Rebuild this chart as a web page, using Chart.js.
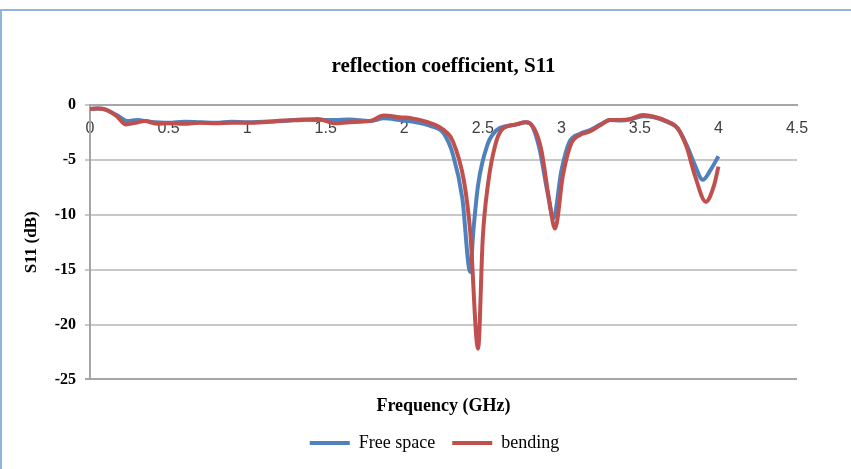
<!DOCTYPE html>
<html>
<head>
<meta charset="utf-8">
<script src="https://cdn.jsdelivr.net/npm/chart.js@4/dist/chart.umd.min.js"></script>
<style>
  html, body { margin: 0; padding: 0; background: #ffffff; overflow: hidden; }
  #wrap { position: relative; width: 851px; height: 469px; }
  #frame { position: absolute; left: 0; top: 9px; width: 1200px; height: 900px;
           border-left: 2px solid #8fb4de; border-top: 2px solid #8fb4de; pointer-events: none; }
  canvas { position: absolute; left: 0; top: 0; }
</style>
</head>
<body>
<div id="wrap">
  <canvas id="c" width="851" height="469"></canvas>
  <div id="frame"></div>
</div>
<script>
// ---- data ----
const freqFree = [0, 0.05, 0.1, 0.17, 0.24, 0.3, 0.38, 0.5, 0.6, 0.7, 0.8, 0.9, 1.0, 1.1, 1.23, 1.35, 1.45, 1.56, 1.65, 1.78, 1.87, 1.97, 2.05, 2.17, 2.25, 2.31, 2.37, 2.42, 2.44, 2.47, 2.53, 2.59, 2.655, 2.72, 2.77, 2.8, 2.86, 2.91, 2.95, 3.0, 3.05, 3.12, 3.18, 3.25, 3.31, 3.38, 3.44, 3.52, 3.59, 3.67, 3.74, 3.8, 3.85, 3.9, 3.95, 4.0];
const s11Free  = [-0.35, -0.3, -0.4, -0.9, -1.45, -1.35, -1.5, -1.6, -1.5, -1.55, -1.6, -1.5, -1.55, -1.5, -1.45, -1.3, -1.35, -1.35, -1.3, -1.45, -1.2, -1.35, -1.5, -1.9, -2.55, -4.5, -8.5, -15.2, -11.5, -7.3, -3.6, -2.25, -1.9, -1.75, -1.55, -1.65, -3.9, -7.8, -10.3, -6.0, -3.4, -2.6, -2.3, -1.75, -1.35, -1.4, -1.3, -1.0, -1.1, -1.5, -2.1, -3.7, -5.45, -6.8, -5.9, -4.65];

const freqBend = [0, 0.05, 0.1, 0.17, 0.23, 0.29, 0.35, 0.43, 0.5, 0.6, 0.7, 0.8, 0.9, 1.0, 1.1, 1.23, 1.35, 1.45, 1.56, 1.65, 1.78, 1.87, 1.97, 2.05, 2.17, 2.25, 2.31, 2.38, 2.42, 2.47, 2.5, 2.535, 2.58, 2.62, 2.7, 2.77, 2.8, 2.87, 2.92, 2.96, 3.01, 3.06, 3.12, 3.18, 3.25, 3.31, 3.38, 3.44, 3.52, 3.59, 3.67, 3.74, 3.8, 3.85, 3.92, 3.97, 4.0];
const s11Bend  = [-0.35, -0.3, -0.4, -1.0, -1.75, -1.6, -1.45, -1.7, -1.65, -1.7, -1.6, -1.65, -1.6, -1.6, -1.55, -1.4, -1.35, -1.25, -1.65, -1.55, -1.45, -0.95, -1.1, -1.2, -1.65, -2.25, -3.3, -6.9, -11.5, -22.2, -12.1, -7.0, -3.6, -2.25, -1.8, -1.55, -1.65, -3.9, -8.4, -11.25, -6.4, -3.6, -2.7, -2.4, -1.8, -1.35, -1.35, -1.25, -0.9, -1.05, -1.45, -2.1, -3.9, -6.4, -8.8, -7.4, -5.6];

const xTickValues = [0, 0.5, 1, 1.5, 2, 2.5, 3, 3.5, 4, 4.5];
const yTickValues = [0, -5, -10, -15, -20, -25];

const seriesNames = ['Free space', 'bending'];
const chartTitle = 'reflection coefficient, S11';
const xTitle = 'Frequency (GHz)';
const yTitle = 'S11 (dB)';

// ---- build ----
const toPoints = (xs, ys) => xs.map((x, i) => ({ x: x, y: ys[i] }));
const serif = "'Liberation Serif', 'Times New Roman', serif";

// nudge the legend slightly left, as in the reference
const legendShift = {
  id: 'legendShift',
  afterLayout(chart) {
    if (chart.legend) { chart.legend.left -= 9; chart.legend.right -= 9; }
  }
};

new Chart(document.getElementById('c'), {
  type: 'line',
  data: {
    datasets: [
      { label: seriesNames[0], data: toPoints(freqFree, s11Free), borderColor: '#4f81bd', backgroundColor: '#4f81bd',
        borderWidth: 4, pointRadius: 0, cubicInterpolationMode: 'monotone', order: 1, xAxisID: 'x', yAxisID: 'y' },
      { label: seriesNames[1], data: toPoints(freqBend, s11Bend), borderColor: '#c0504d', backgroundColor: '#c0504d',
        borderWidth: 4, pointRadius: 0, cubicInterpolationMode: 'monotone', order: 0, xAxisID: 'x', yAxisID: 'y' }
    ]
  },
  plugins: [legendShift],
  options: {
    responsive: false,
    animation: false,
    events: [],
    layout: { padding: { left: 8, right: 54, top: 0, bottom: 7 } },
    scales: {
      x: {
        type: 'linear', min: 0, max: 4.5, position: { y: 0 },
        afterBuildTicks: (s) => { s.ticks = xTickValues.map(v => ({ value: v })); },
        ticks: { font: { family: "'Liberation Sans', Arial, sans-serif", size: 16 }, color: '#404040', padding: 14, maxRotation: 0,
                 callback: (v) => String(v) },
        grid: { drawOnChartArea: false, drawTicks: false },
        border: { color: '#a6a6a6', width: 2 }
      },
      x2: {
        type: 'linear', min: 0, max: 4.5, position: 'bottom',
        ticks: { display: false },
        grid: { display: false },
        border: { display: false },
        title: { display: true, text: xTitle, color: '#000', font: { family: serif, size: 18, weight: 'bold' }, padding: { top: 8, bottom: 0 } }
      },
      y: {
        type: 'linear', min: -25, max: 0, position: 'left',
        afterBuildTicks: (s) => { s.ticks = yTickValues.map(v => ({ value: v })); },
        afterFit: (s) => { s.width = 82; },
        ticks: { font: { family: serif, size: 16, weight: 'bold' }, color: '#000', padding: 9 },
        grid: { color: (ctx) => (ctx.tick && ctx.tick.value === -25) ? '#a6a6a6' : '#c8c8c8', lineWidth: 2, tickLength: 5 },
        border: { color: '#a6a6a6', width: 2 },
        title: { display: true, text: yTitle, color: '#000', font: { family: serif, size: 17, weight: 'bold' }, padding: { top: 13, bottom: 0 } }
      }
    },
    plugins: {
      title: { display: true, text: chartTitle, fullSize: false, color: '#000',
               font: { family: serif, size: 21, weight: 'bold' }, padding: { top: 54, bottom: 26 } },
      legend: { display: true, position: 'bottom', fullSize: false,
                labels: { usePointStyle: true, pointStyle: 'line', pointStyleWidth: 40, color: '#000',
                          font: { family: serif, size: 18 }, padding: 17, boxHeight: 4,
                          sort: (a, b) => a.datasetIndex - b.datasetIndex } },
      tooltip: { enabled: false }
    }
  }
});
</script>
</body>
</html>
